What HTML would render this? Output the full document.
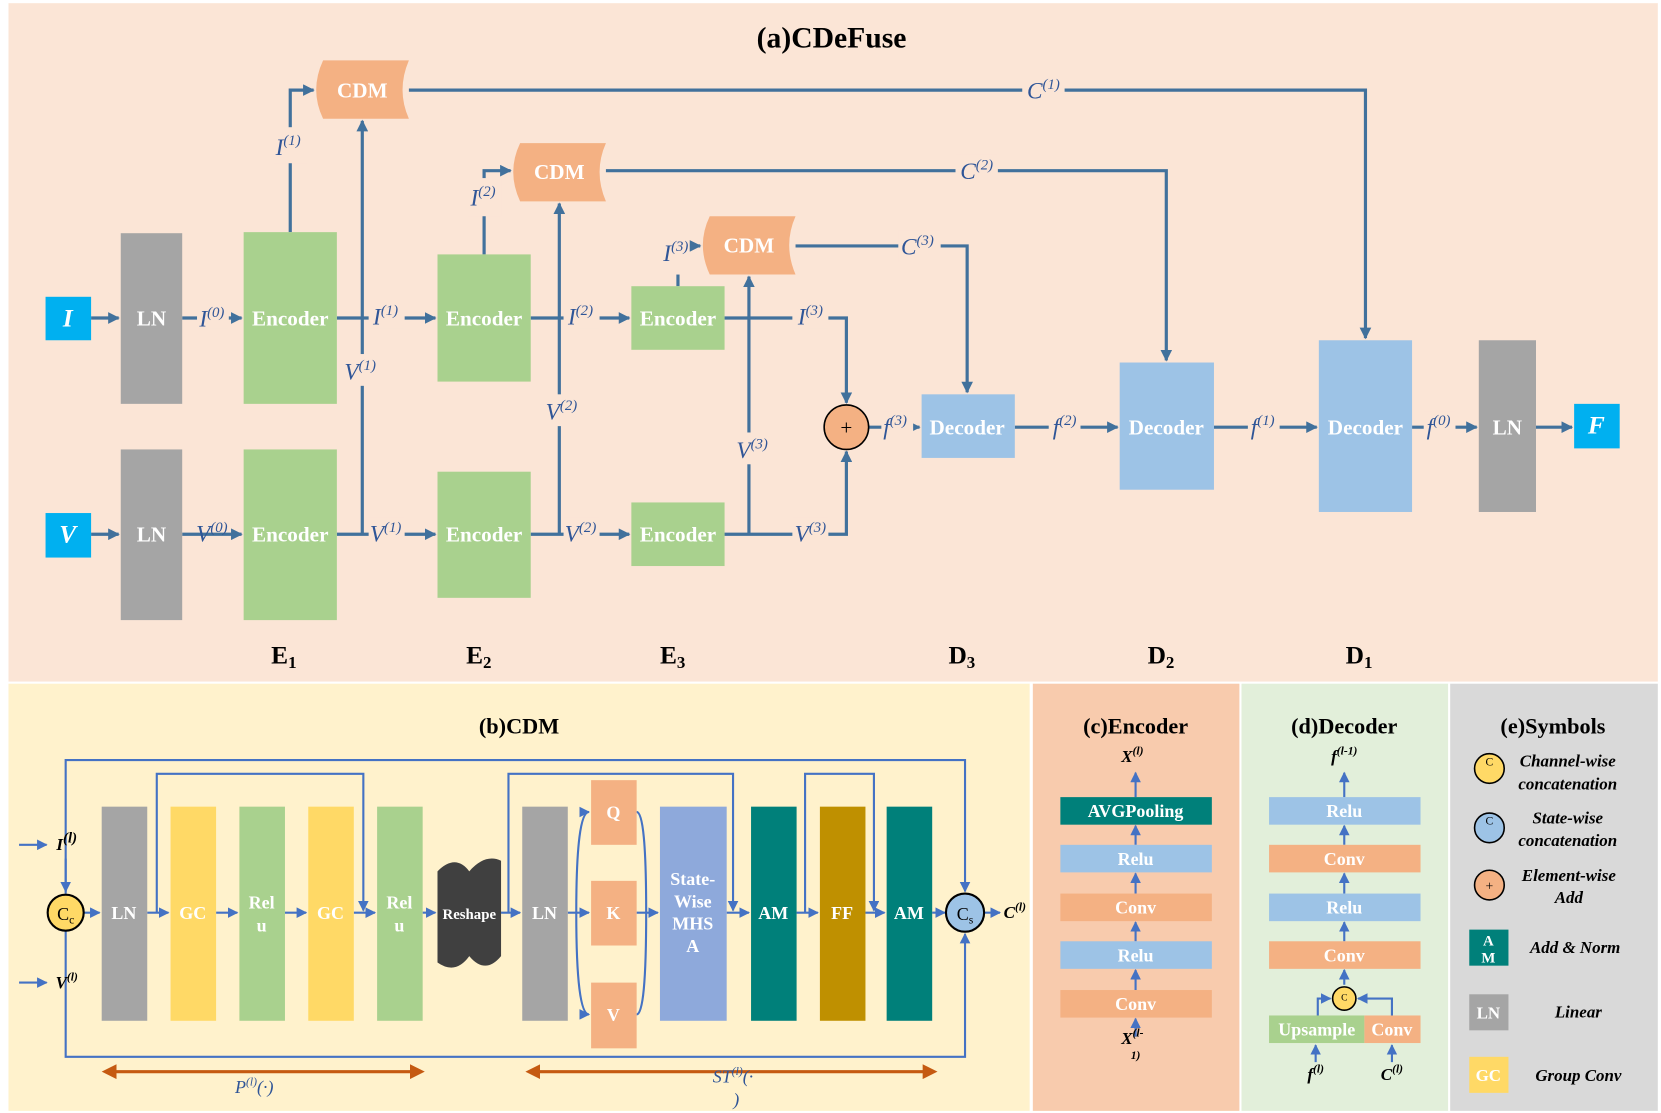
<!DOCTYPE html>
<html><head><meta charset="utf-8"><style>
html,body{margin:0;padding:0;background:#fff;}
svg{display:block;}
text{font-family:"Liberation Serif",serif;}
.w{fill:#fff;font-size:20px;text-anchor:middle;font-weight:bold;}
.b{font-weight:bold;font-size:24px;text-anchor:middle;fill:#000;}
.lb{font-style:italic;font-size:22px;fill:#2F5597;text-anchor:middle;}
.sp{font-size:14px;}
.ln{stroke:#41719C;stroke-width:3;fill:none;}
.tl{stroke:#4472C4;stroke-width:2;fill:none;}
.sm{font-style:italic;font-size:16px;fill:#000;text-anchor:middle;font-weight:bold;}
</style></head><body>
<svg width="1661" height="1113" viewBox="0 0 1568 1050" preserveAspectRatio="none" xmlns="http://www.w3.org/2000/svg">
<defs>
<marker id="a" viewBox="0 0 10 10" refX="9" refY="5" markerWidth="11" markerHeight="11" markerUnits="userSpaceOnUse" orient="auto"><path d="M0,0L10,5L0,10z" fill="#41719C"/></marker>
<marker id="c" viewBox="0 0 10 10" refX="9" refY="5" markerWidth="10" markerHeight="10" markerUnits="userSpaceOnUse" orient="auto"><path d="M0,0L10,5L0,10z" fill="#4472C4"/></marker>
<marker id="o" viewBox="0 0 10 10" refX="5" refY="5" markerWidth="14" markerHeight="14" markerUnits="userSpaceOnUse" orient="auto-start-reverse"><path d="M0,0L10,5L0,10z" fill="#C55A11"/></marker>
</defs>
<rect width="1568" height="1050" fill="#fff"/>
<rect x="8" y="3" width="1557" height="640" fill="#FBE5D6"/>
<rect x="8" y="645" width="964" height="403" fill="#FFF2CC"/>
<rect x="975" y="645" width="195" height="403" fill="#F8CBAD"/>
<rect x="1172" y="645" width="195" height="403" fill="#E2EFDA"/>
<rect x="1369" y="645" width="196" height="403" fill="#D9D9D9"/>

<text x="785" y="45" class="b" style="font-size:28px">(a)CDeFuse</text>

<g class="ln">
<path d="M86,300H112" marker-end="url(#a)"/>
<path d="M86,504H112" marker-end="url(#a)"/>
<path d="M172,300H228" marker-end="url(#a)"/>
<path d="M172,504H228" marker-end="url(#a)"/>
<path d="M274,219V85H296" marker-end="url(#a)"/>
<path d="M318,300H411" marker-end="url(#a)"/>
<path d="M318,504H411" marker-end="url(#a)"/>
<path d="M342,504V114" marker-end="url(#a)"/>
<path d="M457,240V161H482" marker-end="url(#a)"/>
<path d="M501,300H594" marker-end="url(#a)"/>
<path d="M501,504H594" marker-end="url(#a)"/>
<path d="M528,504V192" marker-end="url(#a)"/>
<path d="M640,270V259"/>
<path d="M684,300H799V380" marker-end="url(#a)"/>
<path d="M684,504H799V426" marker-end="url(#a)"/>
<path d="M707,504V261" marker-end="url(#a)"/>
<path d="M386,85H1289V319" marker-end="url(#a)"/>
<path d="M572,161H1101V340" marker-end="url(#a)"/>
<path d="M751,232H913V370" marker-end="url(#a)"/>
<path d="M820,403H868" marker-end="url(#a)"/>
<path d="M958,403H1055" marker-end="url(#a)"/>
<path d="M1146,403H1243" marker-end="url(#a)"/>
<path d="M1333,403H1394" marker-end="url(#a)"/>
<path d="M1450,403H1484" marker-end="url(#a)"/>
</g>

<rect x="43" y="280" width="43" height="41" fill="#00B0F0"/><text x="64" y="308" class="w" style="font-style:italic;font-size:24px">I</text>
<rect x="43" y="484" width="43" height="42" fill="#00B0F0"/><text x="64" y="512" class="w" style="font-style:italic;font-size:24px">V</text>
<rect x="114" y="220" width="58" height="161" fill="#A5A5A5"/><text x="143" y="307" class="w">LN</text>
<rect x="114" y="424" width="58" height="161" fill="#A5A5A5"/><text x="143" y="511" class="w">LN</text>
<g fill="#A9D18E">
<rect x="230" y="219" width="88" height="162"/><rect x="230" y="424" width="88" height="161"/>
<rect x="413" y="240" width="88" height="120"/><rect x="413" y="445" width="88" height="119"/>
<rect x="596" y="270" width="88" height="60"/><rect x="596" y="474" width="88" height="60"/>
</g>
<g class="w"><text x="274" y="307">Encoder</text><text x="274" y="511">Encoder</text><text x="457" y="307">Encoder</text><text x="457" y="511">Encoder</text><text x="640" y="307">Encoder</text><text x="640" y="511">Encoder</text></g>
<g fill="#F4B183">
<path d="M305,57H386Q374,85 386,112H305Q292,85 305,57z"/>
<path d="M491,135H572Q560,162 572,190H491Q478,162 491,135z"/>
<path d="M670,204H751Q739,231 751,259H670Q657,231 670,204z"/>
</g>
<g class="w"><text x="342" y="92">CDM</text><text x="528" y="169">CDM</text><text x="707" y="238">CDM</text></g>
<circle cx="799" cy="403" r="21" fill="#F4B183" stroke="#000" stroke-width="1.5"/><text x="799" y="410" text-anchor="middle" font-size="20">+</text>
<g fill="#9DC3E6"><rect x="870" y="372" width="88" height="60"/><rect x="1057" y="342" width="89" height="120"/><rect x="1245" y="321" width="88" height="162"/></g>
<g class="w"><text x="913" y="410">Decoder</text><text x="1101" y="410">Decoder</text><text x="1289" y="410">Decoder</text></g>
<rect x="1396" y="321" width="54" height="162" fill="#A5A5A5"/><text x="1423" y="410" class="w">LN</text>
<rect x="1486" y="381" width="43" height="42" fill="#00B0F0"/><text x="1507" y="409" class="w" style="font-style:italic;font-size:24px">F</text>

<g fill="#FBE5D6">
<rect x="186" y="284" width="30" height="26"/><rect x="258" y="120" width="32" height="34"/><rect x="348" y="284" width="34" height="26"/><rect x="348" y="488" width="34" height="26"/><rect x="324" y="334" width="34" height="30"/>
<rect x="441" y="168" width="32" height="36"/><rect x="532" y="284" width="34" height="26"/><rect x="532" y="488" width="34" height="26"/><rect x="512" y="372" width="34" height="30"/>
<rect x="748" y="284" width="34" height="26"/><rect x="748" y="488" width="34" height="26"/><rect x="692" y="408" width="34" height="30"/>
<rect x="965" y="70" width="40" height="30"/><rect x="902" y="146" width="40" height="30"/><rect x="848" y="217" width="40" height="30"/>
<rect x="832" y="388" width="30" height="28"/><rect x="990" y="388" width="30" height="28"/><rect x="1178" y="388" width="30" height="28"/><rect x="1344" y="388" width="30" height="28"/>
</g>
<g class="lb">
<text x="200" y="308">I<tspan class="sp" dy="-9">(0)</tspan></text>
<text x="272" y="146">I<tspan class="sp" dy="-9">(1)</tspan></text>
<text x="364" y="306">I<tspan class="sp" dy="-9">(1)</tspan></text>
<text x="364" y="511">V<tspan class="sp" dy="-9">(1)</tspan></text>
<text x="340" y="358">V<tspan class="sp" dy="-9">(1)</tspan></text>
<text x="200" y="511">V<tspan class="sp" dy="-9">(0)</tspan></text>
<text x="456" y="194">I<tspan class="sp" dy="-9">(2)</tspan></text>
<text x="548" y="306">I<tspan class="sp" dy="-9">(2)</tspan></text>
<text x="548" y="511">V<tspan class="sp" dy="-9">(2)</tspan></text>
<text x="530" y="396">V<tspan class="sp" dy="-9">(2)</tspan></text>
<text x="638" y="246">I<tspan class="sp" dy="-9">(3)</tspan></text>
<text x="765" y="306">I<tspan class="sp" dy="-9">(3)</tspan></text>
<text x="765" y="511">V<tspan class="sp" dy="-9">(3)</tspan></text>
<text x="710" y="432">V<tspan class="sp" dy="-9">(3)</tspan></text>
<text x="985" y="93">C<tspan class="sp" dy="-9">(1)</tspan></text>
<text x="922" y="169">C<tspan class="sp" dy="-9">(2)</tspan></text>
<text x="866" y="240">C<tspan class="sp" dy="-9">(3)</tspan></text>
<text x="845" y="410">f<tspan class="sp" dy="-9">(3)</tspan></text>
<text x="1005" y="410">f<tspan class="sp" dy="-9">(2)</tspan></text>
<text x="1192" y="410">f<tspan class="sp" dy="-9">(1)</tspan></text>
<text x="1358" y="410">f<tspan class="sp" dy="-9">(0)</tspan></text>
</g>
<path d="M656,232H661" class="ln" marker-end="url(#a)"/>
<g class="b"><text x="268" y="626">E<tspan font-size="16" dy="4">1</tspan></text><text x="452" y="626">E<tspan font-size="16" dy="4">2</tspan></text><text x="635" y="626">E<tspan font-size="16" dy="4">3</tspan></text><text x="908" y="626">D<tspan font-size="16" dy="4">3</tspan></text><text x="1096" y="626">D<tspan font-size="16" dy="4">2</tspan></text><text x="1283" y="626">D<tspan font-size="16" dy="4">1</tspan></text></g>

<text x="490" y="692" class="b" style="font-size:21px">(b)CDM</text>
<g class="tl">
<path d="M62,843V717H911V841" marker-end="url(#c)"/>
<path d="M62,878V997H911V881" marker-end="url(#c)"/>
<path d="M18,797H44" marker-end="url(#c)"/>
<path d="M18,927H44" marker-end="url(#c)"/>
<path d="M62,810V841" marker-end="url(#c)"/>
<path d="M148,861V730H343V859" marker-end="url(#c)"/>
<path d="M480,861V730H692V859" marker-end="url(#c)"/>
<path d="M760,861V730H825V859" marker-end="url(#c)"/>
<path d="M79,861H94" marker-end="url(#c)"/>
<path d="M139,861H159" marker-end="url(#c)"/>
<path d="M204,861H224" marker-end="url(#c)"/>
<path d="M269,861H289" marker-end="url(#c)"/>
<path d="M334,861H354" marker-end="url(#c)"/>
<path d="M399,861H411" marker-end="url(#c)"/>
<path d="M473,861H491" marker-end="url(#c)"/>
<path d="M536,861H556" marker-end="url(#c)"/>
<path d="M544,861Q544,766 556,766" marker-end="url(#c)"/>
<path d="M544,861Q544,957 556,957" marker-end="url(#c)"/>
<path d="M601,766Q610,766 610,861Q610,957 601,957"/>
<path d="M601,861H621" marker-end="url(#c)"/>
<path d="M686,861H707" marker-end="url(#c)"/>
<path d="M752,861H772" marker-end="url(#c)"/>
<path d="M817,861H835" marker-end="url(#c)"/>
<path d="M880,861H892" marker-end="url(#c)"/>
<path d="M929,861H944" marker-end="url(#c)"/>
</g>
<rect x="96" y="761" width="43" height="202" fill="#A5A5A5"/>
<rect x="161" y="761" width="43" height="202" fill="#FFD966"/>
<rect x="226" y="761" width="43" height="202" fill="#A9D18E"/>
<rect x="291" y="761" width="43" height="202" fill="#FFD966"/>
<rect x="356" y="761" width="43" height="202" fill="#A9D18E"/>
<path d="M413,822Q430,805 443,822Q458,805 473,812V902Q458,920 443,902Q430,920 413,908z" fill="#404040"/>
<rect x="493" y="761" width="43" height="202" fill="#A5A5A5"/>
<rect x="558" y="736" width="43" height="61" fill="#F4B183"/>
<rect x="558" y="831" width="43" height="61" fill="#F4B183"/>
<rect x="558" y="927" width="43" height="62" fill="#F4B183"/>
<rect x="623" y="761" width="63" height="202" fill="#8EA9DB"/>
<rect x="709" y="761" width="43" height="202" fill="#00807A"/>
<rect x="774" y="761" width="43" height="202" fill="#BF9000"/>
<rect x="837" y="761" width="43" height="202" fill="#00807A"/>
<g class="w" style="font-size:17px">
<text x="117" y="867">LN</text><text x="182" y="867">GC</text><text x="247" y="857">Rel</text><text x="247" y="879">u</text><text x="312" y="867">GC</text><text x="377" y="857">Rel</text><text x="377" y="879">u</text>
<text x="443" y="867" style="font-size:14px">Reshape</text><text x="514" y="867">LN</text>
<text x="579" y="772">Q</text><text x="579" y="867">K</text><text x="579" y="963">V</text>
<text x="654" y="835">State-</text><text x="654" y="856">Wise</text><text x="654" y="877">MHS</text><text x="654" y="898">A</text>
<text x="730" y="867">AM</text><text x="795" y="867">FF</text><text x="858" y="867">AM</text>
</g>
<circle cx="62" cy="861" r="17" fill="#FFD966" stroke="#000" stroke-width="2"/><text x="62" y="868" text-anchor="middle" font-size="17">C<tspan font-size="11" dy="3">c</tspan></text>
<circle cx="911" cy="861" r="18" fill="#9DC3E6" stroke="#000" stroke-width="2"/><text x="911" y="868" text-anchor="middle" font-size="17">C<tspan font-size="11" dy="3">s</tspan></text>
<g class="sm"><text x="63" y="802">I<tspan class="sp" font-size="11" dy="-7">(l)</tspan></text><text x="63" y="932">V<tspan font-size="11" dy="-7">(l)</tspan></text><text x="958" y="866">C<tspan font-size="11" dy="-7">(l)</tspan></text></g>
<g stroke="#C55A11" stroke-width="3"><path d="M103,1011H394" marker-start="url(#o)" marker-end="url(#o)"/><path d="M503,1011H878" marker-start="url(#o)" marker-end="url(#o)"/></g>
<g class="lb" style="font-size:17px"><text x="240" y="1031">P<tspan font-size="11" dy="-7">(l)</tspan><tspan dy="7">(·)</tspan></text><text x="692" y="1021">ST<tspan font-size="11" dy="-7">(l)</tspan><tspan dy="7">(·</tspan></text><text x="695" y="1043">)</text></g>

<text x="1072" y="692" class="b" style="font-size:21px">(c)Encoder</text>
<g class="tl">
<path d="M1072,752V729" marker-end="url(#c)"/><path d="M1072,797V779" marker-end="url(#c)"/><path d="M1072,843V824" marker-end="url(#c)"/><path d="M1072,888V870" marker-end="url(#c)"/><path d="M1072,934V915" marker-end="url(#c)"/><path d="M1072,978V961" marker-end="url(#c)"/>
<path d="M1269,752V729" marker-end="url(#c)"/><path d="M1269,797V779" marker-end="url(#c)"/><path d="M1269,843V824" marker-end="url(#c)"/><path d="M1269,888V870" marker-end="url(#c)"/><path d="M1269,929V915" marker-end="url(#c)"/>
<path d="M1244,958V942H1256" marker-end="url(#c)"/><path d="M1314,958V942H1282" marker-end="url(#c)"/>
<path d="M1242,1002V986" marker-end="url(#c)"/><path d="M1314,1002V986" marker-end="url(#c)"/>
</g>
<rect x="1001" y="752" width="143" height="26" fill="#00807A"/>
<rect x="1001" y="797" width="143" height="26" fill="#9DC3E6"/>
<rect x="1001" y="843" width="143" height="26" fill="#F4B183"/>
<rect x="1001" y="888" width="143" height="26" fill="#9DC3E6"/>
<rect x="1001" y="934" width="143" height="26" fill="#F4B183"/>
<g class="w" style="font-size:17px"><text x="1072" y="771">AVGPooling</text><text x="1072" y="816">Relu</text><text x="1072" y="862">Conv</text><text x="1072" y="907">Relu</text><text x="1072" y="953">Conv</text></g>
<g class="sm"><text x="1069" y="719">X<tspan font-size="11" dy="-7">(l)</tspan></text><text x="1069" y="985">X<tspan font-size="11" dy="-7">(l-</tspan></text><text x="1072" y="999" font-size="11">1)</text></g>
<text x="1269" y="692" class="b" style="font-size:21px">(d)Decoder</text>
<rect x="1198" y="752" width="143" height="26" fill="#9DC3E6"/>
<rect x="1198" y="797" width="143" height="26" fill="#F4B183"/>
<rect x="1198" y="843" width="143" height="26" fill="#9DC3E6"/>
<rect x="1198" y="888" width="143" height="26" fill="#F4B183"/>
<rect x="1198" y="958" width="90" height="26" fill="#A9D18E"/>
<rect x="1288" y="958" width="53" height="26" fill="#F4B183"/>
<g class="w" style="font-size:17px"><text x="1269" y="771">Relu</text><text x="1269" y="816">Conv</text><text x="1269" y="862">Relu</text><text x="1269" y="907">Conv</text><text x="1243" y="977">Upsample</text><text x="1314" y="977">Conv</text></g>
<circle cx="1269" cy="942" r="11" fill="#FFD966" stroke="#000" stroke-width="1.5"/><text x="1269" y="944" text-anchor="middle" font-size="9">C</text>
<g class="sm"><text x="1269" y="719">f<tspan font-size="11" dy="-7">(l-1)</tspan></text><text x="1242" y="1019">f<tspan font-size="11" dy="-7">(l)</tspan></text><text x="1314" y="1019">C<tspan font-size="11" dy="-7">(l)</tspan></text></g>
<text x="1466" y="692" class="b" style="font-size:21px">(e)Symbols</text>
<circle cx="1406" cy="725" r="14" fill="#FFD966" stroke="#000" stroke-width="1.5"/><text x="1406" y="722" text-anchor="middle" font-size="11">C</text>
<circle cx="1406" cy="781" r="14" fill="#9DC3E6" stroke="#000" stroke-width="1.5"/><text x="1406" y="778" text-anchor="middle" font-size="11">C</text>
<circle cx="1406" cy="835" r="14" fill="#F4B183" stroke="#000" stroke-width="1.5"/><text x="1406" y="840" text-anchor="middle" font-size="13">+</text>
<rect x="1387" y="877" width="37" height="34" fill="#00807A"/><text x="1405" y="892" class="w" style="font-size:14px">A</text><text x="1405" y="908" class="w" style="font-size:14px">M</text>
<rect x="1387" y="938" width="37" height="34" fill="#A5A5A5"/><text x="1405" y="961" class="w" style="font-size:16px">LN</text>
<rect x="1387" y="997" width="37" height="34" fill="#FFD966"/><text x="1405" y="1020" class="w" style="font-size:16px">GC</text>
<g class="sm"><text x="1480" y="723">Channel-wise</text><text x="1480" y="745">concatenation</text><text x="1480" y="777">State-wise</text><text x="1480" y="798">concatenation</text><text x="1481" y="831">Element-wise</text><text x="1481" y="852">Add</text><text x="1487" y="899">Add &amp; Norm</text><text x="1490" y="960">Linear</text><text x="1490" y="1020">Group Conv</text></g>
</svg>
</body></html>
